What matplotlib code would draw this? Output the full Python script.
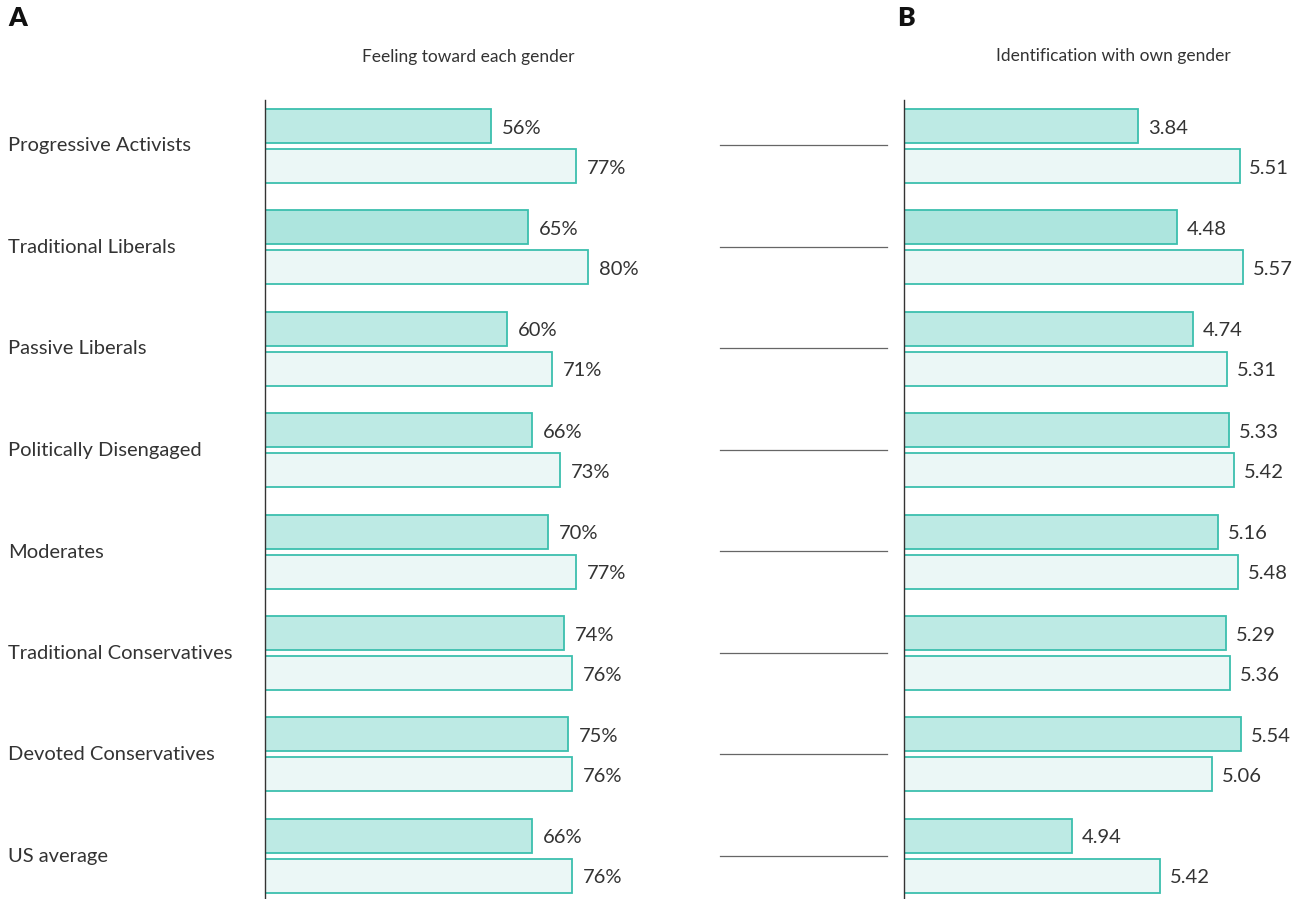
import matplotlib.pyplot as plt
import numpy as np

groups = ["Progressive Activists", "Traditional Liberals", "Passive Liberals",
          "Politically Disengaged", "Moderates", "Traditional Conservatives",
          "Devoted Conservatives", "US average"]

# panel A: feeling toward each gender (%)
feel_top = [56, 65, 60, 66, 70, 74, 75, 66]
feel_bot = [77, 80, 71, 73, 77, 76, 76, 76]

# panel B: identification with own gender (labels)
ident_top = [3.84, 4.48, 4.74, 5.33, 5.16, 5.29, 5.54, 4.94]
ident_bot = [5.51, 5.57, 5.31, 5.42, 5.48, 5.36, 5.06, 5.42]
# bar lengths as drawn in the original (US average bars are drawn shorter)
ident_top_len = [3.84, 4.48, 4.74, 5.33, 5.16, 5.29, 5.54, 2.76]
ident_bot_len = [5.51, 5.57, 5.31, 5.42, 5.48, 5.36, 5.06, 4.21]

plt.rcParams['font.family'] = ['Lato', 'DejaVu Sans']
TXT = "#333333"
EDGE = "#3cbfae"
FILL_TOP = "#bdeae4"
FILL_BOT = "#ebf7f6"
FILL_HI = "#ade5de"

W, H = 1298, 899
fig = plt.figure(figsize=(W / 100, H / 100), dpi=100)

y = np.arange(len(groups))
bh = 0.335
off = 0.197
ylim = (7.426, -0.454)


def panel(left_px, width_px, xmax, top, bot, top_lbl, bot_lbl, fmt):
    ax = fig.add_axes([left_px / W, 0, width_px / W, 1 - 100 / H])
    cols = [FILL_HI if i == 1 else FILL_TOP for i in range(len(top))]
    ax.barh(y - off, top, height=bh, color=cols, edgecolor=EDGE, linewidth=1.3)
    ax.barh(y + off, bot, height=bh, color=FILL_BOT, edgecolor=EDGE, linewidth=1.3)
    pad = xmax * 0.025
    for i in range(len(top)):
        ax.text(top[i] + pad, y[i] - off + 0.02, fmt(top_lbl[i]), va='center',
                ha='left', fontsize=14.5, color=TXT)
        ax.text(bot[i] + pad, y[i] + off + 0.02, fmt(bot_lbl[i]), va='center',
                ha='left', fontsize=14.5, color=TXT)
    ax.set_xlim(0, xmax)
    ax.set_ylim(*ylim)
    for s in ['top', 'right', 'bottom']:
        ax.spines[s].set_visible(False)
    ax.spines['left'].set_color('#333333')
    ax.spines['left'].set_linewidth(1.0)
    ax.set_xticks([])
    ax.set_yticks([])
    return ax


axA = panel(265, 435, 107.7, feel_top, feel_bot, feel_top, feel_bot, lambda v: f"{v}%")
axB = panel(904, 394, 6.47, ident_top_len, ident_bot_len, ident_top, ident_bot,
            lambda v: f"{v:.2f}")

# group labels and separator lines
for i, g in enumerate(groups):
    py = 146 + 101.5 * i
    fig.text(8 / W, 1 - py / H, g, va='center', ha='left', fontsize=14.5, color=TXT)
    fig.add_artist(plt.Line2D([720 / W, 887 / W], [1 - (py - 1) / H] * 2,
                              color='#666666', linewidth=0.9))

fig.text(468 / W, 1 - 57 / H, "Feeling toward each gender", ha='center', va='center',
         fontsize=12.5, color=TXT)
fig.text(1113 / W, 1 - 56 / H, "Identification with own gender", ha='center',
         va='center', fontsize=12.5, color=TXT)
fig.text(8 / W, 1 - 18 / H, "A", ha='left', va='center', fontsize=19,
         fontweight='heavy', color='#111111')
fig.text(897 / W, 1 - 18 / H, "B", ha='left', va='center', fontsize=19,
         fontweight='heavy', color='#111111')

fig.savefig("out.png", dpi=100)
